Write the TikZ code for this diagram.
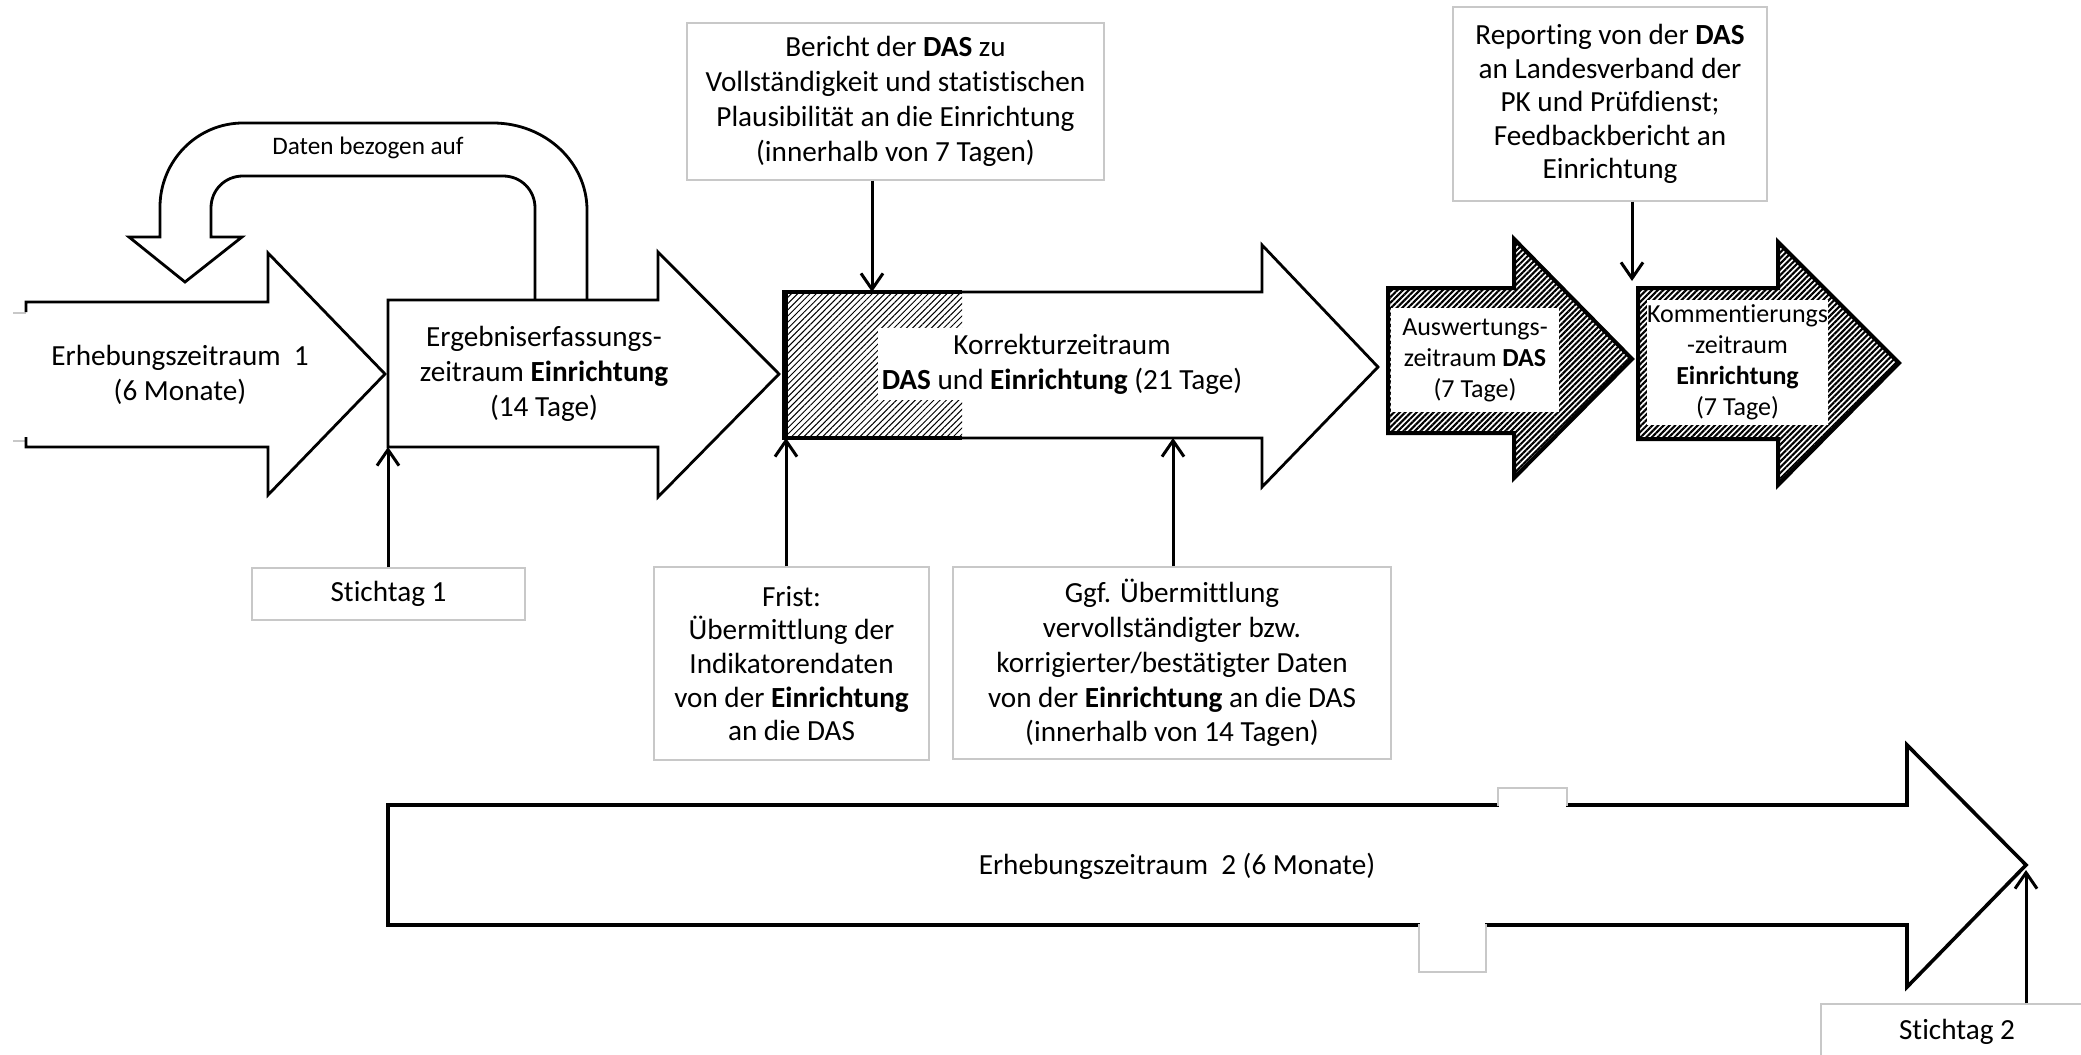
\documentclass[tikz,border=0pt]{standalone}
\usepackage{fontspec}
\setmainfont{Carlito}[Ligatures=NoCommon]
\usetikzlibrary{arrows.meta,patterns.meta}
\definecolor{boxgray}{RGB}{200,200,200}
\newcommand\szmain{\fontsize{14.6pt}{17.4pt}\selectfont}
\newcommand\szrep{\fontsize{14.6pt}{16.8pt}\selectfont}
\newcommand\szsmall{\fontsize{13pt}{15.5pt}\selectfont}
\newcommand\szdaten{\fontsize{12.6pt}{15pt}\selectfont}
\begin{document}
\begin{tikzpicture}[x=0.5pt,y=-0.5pt,
  blk/.style={draw=black,line width=1.4pt,fill=white,line join=miter},
  hatchout/.style={draw=black,line width=2pt,line join=miter},
  lighthatch/.style={pattern={Lines[angle=45,distance=2.2pt,line width=0.5pt]}},
  darkhatch/.style={pattern={Lines[angle=45,distance=2pt,line width=1.05pt]}},
  infobox/.style={draw=boxgray,line width=0.6pt,fill=white,align=center,inner sep=0pt,font=\szmain},
  lbl/.style={align=center,inner sep=0pt,font=\szmain},
  whitelbl/.style={fill=white,align=center,inner sep=0pt,font=\szsmall},
  conn/.style={line width=1.5pt,-{Straight Barb[length=8pt,width=11pt,line width=1.5pt]}}]
\path[use as bounding box] (0,0) rectangle (2081,1054);
\fill[white] (0,0) rectangle (2081,1054);

% U-turn arrow "Daten bezogen auf"
\draw[blk] (535,300) -- (535,208) .. controls (535,190) and (521,176) .. (503,176)
  -- (243,176) .. controls (225,176) and (211,190) .. (211,208)
  -- (211,237) -- (242,237) -- (185,282) -- (129,237) -- (160,237)
  -- (160,207) .. controls (160,161) and (197,123) .. (243,123)
  -- (493,123) .. controls (545,123) and (587,162) .. (587,210) -- (587,300);

% Erhebungszeitraum 1 (open at left)
\draw[boxgray,line width=0.6pt] (13,313) -- (26,313) (13,441) -- (26,441);
\draw[blk] (26,312) -- (26,302) -- (268,302) -- (268,253) -- (385,374) -- (268,495) -- (268,447) -- (26,447) -- (26,437);

% Ergebniserfassungszeitraum
\draw[blk] (388,300) -- (658,300) -- (658,252) -- (779,374) -- (658,497) -- (658,447) -- (388,447) -- cycle;

% Korrekturzeitraum
\draw[blk] (784,292) -- (1262,292) -- (1262,245) -- (1378,367) -- (1262,487) -- (1262,438) -- (784,438) -- cycle;
\fill[lighthatch] (784,292) rectangle (962,438);
\draw[hatchout] (962,292) -- (784,292) -- (784,438) -- (962,438);
\draw[line width=3.2pt] (785,291) -- (785,439);

% Auswertungszeitraum
\path[darkhatch] (1388,288) -- (1514,288) -- (1514,239) -- (1632,359) -- (1514,478) -- (1514,433) -- (1388,433) -- cycle;
\draw[hatchout] (1388,288) -- (1514,288) -- (1514,239) -- (1632,359) -- (1514,478) -- (1514,433) -- (1388,433) -- cycle;

% Kommentierungszeitraum
\path[darkhatch] (1638,288) -- (1778,288) -- (1778,242) -- (1899,363) -- (1778,485) -- (1778,439) -- (1638,439) -- cycle;
\draw[hatchout] (1638,288) -- (1778,288) -- (1778,242) -- (1899,363) -- (1778,485) -- (1778,439) -- (1638,439) -- cycle;

% Erhebungszeitraum 2
\draw[blk,line width=1.8pt] (388,805) -- (1907,805) -- (1907,745) -- (2026,865) -- (1907,987) -- (1907,925) -- (388,925) -- cycle;
\fill[white] (1499,788) rectangle (1566,810);
\draw[boxgray,line width=0.6pt] (1498,806) -- (1498,788) -- (1567,788) -- (1567,806);
\fill[white] (1420,920) rectangle (1485,972);
\draw[boxgray,line width=0.6pt] (1419,924) -- (1419,972) -- (1486,972) -- (1486,924);

% texts on arrows
\node[lbl] (erh1) at (180,375) {Erhebungszeitraum\ \ 1\\(6 Monate)};
\node[lbl] (erg) at (544,374) {Ergebniserfassungs-\\zeitraum \textbf{Einrichtung}\\(14 Tage)};
\node[lbl,font=\szdaten] (daten) at (368,148) {Daten bezogen auf};
\node[lbl,fill=white,inner xsep=2pt,inner ysep=3pt] (korr) at (1062,364) {Korrekturzeitraum\\\textbf{DAS} und \textbf{Einrichtung} (21 Tage)};
\node[whitelbl,minimum width=84pt,minimum height=52pt] (ausw) at (1475,360) {Auswertungs-\\zeitraum \textbf{DAS}\\(7 Tage)};
\node[whitelbl,minimum width=89.5pt,minimum height=62.5pt] (komm) at (1737.5,362.5) {Kommentierungs\\-zeitraum\\\textbf{Einrichtung}\\(7 Tage)};
\node[lbl] (erh2) at (1177,866) {Erhebungszeitraum\ \ 2 (6 Monate)};

% info boxes
\node[infobox,minimum width=208.5pt,minimum height=78.5pt] (bericht) at (895.5,101.5) {Bericht der \textbf{DAS} zu\\Vollständigkeit und statistischen\\Plausibilität an die Einrichtung\\(innerhalb von 7 Tagen)};
\node[infobox,minimum width=157pt,minimum height=97pt,font=\szrep] (report) at (1610,104) {Reporting von der \textbf{DAS}\\an Landesverband der\\PK und Prüfdienst;\\Feedbackbericht an\\Einrichtung};
\node[infobox,minimum width=136.5pt,minimum height=26pt] (st1) at (388.5,594) {Stichtag 1};
\node[infobox,minimum width=137.5pt,minimum height=96.5pt,font=\szrep] (frist) at (791.5,663.5) {Frist:\\Übermittlung der\\Indikatorendaten\\von der \textbf{Einrichtung}\\an die DAS};
\node[infobox,minimum width=219pt,minimum height=96pt] (ggf) at (1172,663) {Ggf. Übermittlung\\vervollständigter bzw.\\korrigierter/bestätigter Daten\\von der \textbf{Einrichtung} an die DAS\\(innerhalb von 14 Tagen)};
\node[infobox,minimum width=136pt,minimum height=28pt] (st2) at (1957,1032) {Stichtag 2};

% connectors
\coordinate (ergBL) at (388,447);
\coordinate (korrB1) at (786,438);
\coordinate (korrB2) at (1173,438);
\coordinate (korrT) at (872,292);
\coordinate (kommT) at (1632,287);
\coordinate (erh2tip) at (2026,866);
\draw[conn] (st1.north -| ergBL) -- (ergBL);
\draw[conn] (frist.north -| korrB1) -- (korrB1);
\draw[conn] (ggf.north -| korrB2) -- (korrB2);
\draw[conn] (bericht.south -| korrT) -- (korrT);
\draw[conn,shorten >=3pt] (report.south -| kommT) -- (kommT);
\draw[conn,shorten >=2pt] (st2.north -| erh2tip) -- (erh2tip);
\end{tikzpicture}
\end{document}
